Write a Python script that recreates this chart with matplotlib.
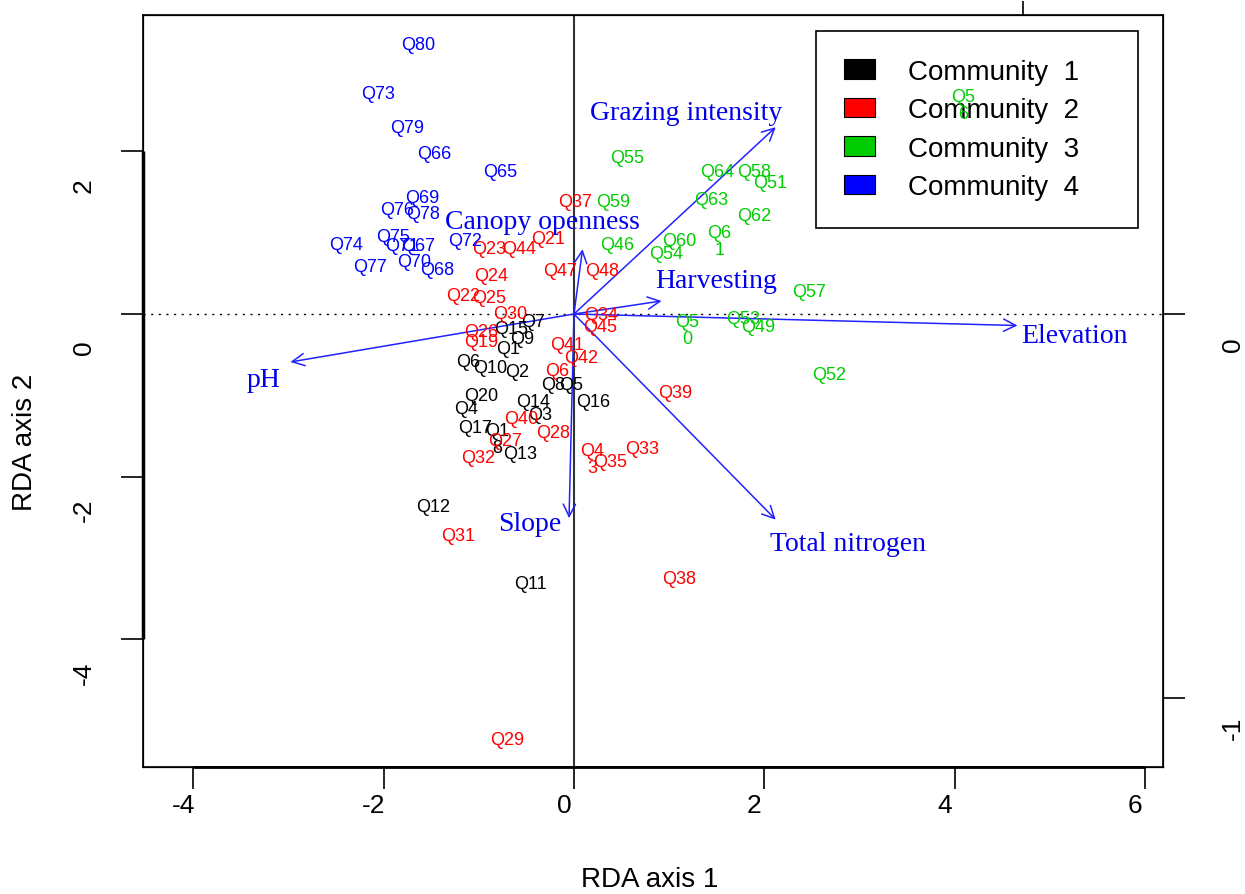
import matplotlib.pyplot as plt
import matplotlib.transforms as mtransforms
from matplotlib.patches import Patch

# site scores (RDA axis 1, RDA axis 2)
c1_names = ["Q15", "Q7", "Q9", "Q1", "Q6", "Q10", "Q2", "Q8", "Q5", "Q16", "Q20",
            "Q4", "Q14", "Q3", "Q17", "Q1\n8", "Q13", "Q12", "Q11"]
c1_x = [-0.66, -0.43, -0.54, -0.69, -1.11, -0.88, -0.60, -0.22, -0.03, 0.20, -0.97,
        -1.13, -0.43, -0.36, -1.04, -0.81, -0.57, -1.48, -0.46]
c1_y = [-0.18, -0.09, -0.30, -0.42, -0.58, -0.66, -0.71, -0.87, -0.87, -1.08, -1.00,
        -1.16, -1.08, -1.24, -1.40, -1.54, -1.72, -2.37, -3.32]

c2_names = ["Q37", "Q21", "Q44", "Q23", "Q24", "Q47", "Q48", "Q22", "Q25", "Q30",
            "Q34", "Q45", "Q26", "Q19", "Q41", "Q42", "Q6", "Q39", "Q40", "Q28",
            "Q27", "Q32", "Q4\n3", "Q35", "Q33", "Q31", "Q38", "Q29"]
c2_x = [0.01, -0.27, -0.58, -0.89, -0.87, -0.15, 0.30, -1.16, -0.89, -0.67,
        0.28, 0.27, -0.97, -0.97, -0.07, 0.07, -0.18, 1.06, -0.55, -0.22,
        -0.72, -1.01, 0.19, 0.38, 0.72, -1.22, 1.10, -0.70]
c2_y = [1.38, 0.93, 0.80, 0.80, 0.47, 0.53, 0.53, 0.23, 0.20, 0.01,
        -0.01, -0.15, -0.22, -0.34, -0.37, -0.54, -0.70, -0.97, -1.29, -1.46,
        -1.55, -1.77, -1.78, -1.81, -1.65, -2.73, -3.25, -5.23]

c3_names = ["Q55", "Q59", "Q46", "Q64", "Q58", "Q51", "Q63", "Q62", "Q6\n1", "Q60",
            "Q54", "Q57", "Q5\n0", "Q53", "Q49", "Q52", "Q5\n6"]
c3_x = [0.56, 0.41, 0.45, 1.50, 1.89, 2.06, 1.44, 1.89, 1.53, 1.11,
        0.97, 2.47, 1.19, 1.78, 1.93, 2.68, 4.09]
c3_y = [1.93, 1.38, 0.85, 1.75, 1.75, 1.62, 1.41, 1.21, 0.90, 0.91,
        0.75, 0.28, -0.20, -0.05, -0.15, -0.75, 2.57]

c4_names = ["Q80", "Q73", "Q79", "Q66", "Q65", "Q69", "Q76", "Q78", "Q74", "Q75",
            "Q71", "Q67", "Q70", "Q77", "Q68", "Q72"]
c4_x = [-1.64, -2.06, -1.75, -1.47, -0.77, -1.59, -1.86, -1.59, -2.39, -1.90,
        -1.81, -1.64, -1.68, -2.14, -1.44, -1.14]
c4_y = [3.31, 2.71, 2.30, 1.97, 1.75, 1.43, 1.29, 1.24, 0.85, 0.95,
        0.84, 0.84, 0.65, 0.59, 0.55, 0.90]

# environmental vectors (top / right axis units) and their label spots (plot units)
env_names = ["Grazing intensity", "Canopy openness", "Harvesting", "Elevation",
             "pH", "Total nitrogen", "Slope"]
env_x = [0.449, 0.019, 0.195, 0.987, -0.631, 0.449, -0.011]
env_y = [0.487, 0.169, 0.034, -0.030, -0.125, -0.536, -0.532]
lab_x = [1.18, -0.33, 1.49, 5.26, -3.26, 2.88, -0.46]
lab_y = [2.48, 1.14, 0.41, -0.26, -0.80, -2.82, -2.58]
mult = 4.72

legend_labels = ["Community  1    ", "Community  2    ", "Community  3    ", "Community  4    "]
colors = ["black", "#FF0000", "#00CD00", "#0000FF"]

plt.rcParams['font.family'] = ['Liberation Sans', 'DejaVu Sans']
plt.rcParams['axes.unicode_minus'] = False

fig = plt.figure(figsize=(12.45, 8.95), dpi=100)
ax = fig.add_axes([143/1245, 127/895, 1020/1245, 752/895])
xmin, xmax = -4.527, 6.187
ymin, ymax = -5.572, 3.678
ax.set_xlim(xmin, xmax)
ax.set_ylim(ymin, ymax)

ax.axhline(0, color='black', lw=1.0, ls=(0, (1.5, 4)))
ax.axvline(0, color='#333333', lw=1.5)

groups = [(c1_names, c1_x, c1_y), (c2_names, c2_x, c2_y),
          (c3_names, c3_x, c3_y), (c4_names, c4_x, c4_y)]
for (names, xs, ys), col in zip(groups, colors):
    for n, x, y in zip(names, xs, ys):
        ax.text(x, y, n, color=col, fontsize=13, ha='center', va='center',
                linespacing=1.0, zorder=6)

for n, ex, ey, lx, ly in zip(env_names, env_x, env_y, lab_x, lab_y):
    ax.annotate('', xy=(ex*mult, ey*mult), xytext=(0, 0),
                arrowprops=dict(arrowstyle='->', color='#2222FF', lw=1.1,
                                mutation_scale=22, shrinkA=0, shrinkB=0))
    ax.text(lx, ly, n, color='#0000EE', fontsize=20, family='Liberation Serif',
            ha='center', va='center')

# ticks
ax.set_xticks([-4, -2, 0, 2, 4, 6])
ax.set_yticks([2, 0, -2, -4])
ax.tick_params(axis='both', direction='out', length=16, width=1.2, labelsize=19)
ax.tick_params(axis='x', pad=3)
ax.tick_params(axis='y', pad=18, labelrotation=90)
for lab in ax.get_yticklabels():
    lab.set_va('center')
    lab.set_transform(lab.get_transform() +
                      mtransforms.ScaledTranslation(0, -0.33, fig.dpi_scale_trans))
for lab in ax.get_xticklabels():
    lab.set_transform(lab.get_transform() +
                      mtransforms.ScaledTranslation(-0.10, 0, fig.dpi_scale_trans))

# R-style axis lines between the outer ticks
ax.plot([xmin, xmin], [-4, 2], color='black', lw=2.5, clip_on=False, solid_capstyle='butt')
ax.plot([-4, 6], [ymin, ymin], color='black', lw=2.0, clip_on=False, solid_capstyle='butt')

for sp in ax.spines.values():
    sp.set_linewidth(1.2)

ax_r = ax.twinx()
ax_r.set_ylim(ymin/mult, ymax/mult)
ax_r.set_yticks([0, -1])
ax_r.tick_params(axis='y', direction='out', length=16, width=1.2, labelsize=19,
                 pad=26, labelrotation=90)
for lab in ax_r.get_yticklabels():
    lab.set_va('center')
    lab.set_transform(lab.get_transform() +
                      mtransforms.ScaledTranslation(0, -0.30, fig.dpi_scale_trans))

ax_t = ax.twiny()
ax_t.set_xlim(xmin/mult, xmax/mult)
ax_t.set_xticks([1])
ax_t.set_xticklabels([])
ax_t.tick_params(axis='x', direction='out', length=10, width=1.2)

ax.set_xlabel("RDA axis 1", fontsize=20, va='center')
ax.xaxis.set_label_coords(0.497, -0.149)
ax.set_ylabel("RDA axis 2", fontsize=20, va='center')
ax.yaxis.set_label_coords(-0.1157, 0.4335)

handles = [Patch(facecolor=c, edgecolor='black', lw=0.8) for c in colors]
leg = ax.legend(handles, legend_labels, loc='upper right',
                bbox_to_anchor=(0.9755, 0.9787), fontsize=20, frameon=True,
                fancybox=False, framealpha=1, edgecolor='black',
                handlelength=1.12, handleheight=0.72, handletextpad=1.2,
                borderpad=1.0, labelspacing=0.45, borderaxespad=0)
leg.get_frame().set_linewidth(1.2)
leg.set_zorder(5)

fig.savefig("out.png", dpi=100)
